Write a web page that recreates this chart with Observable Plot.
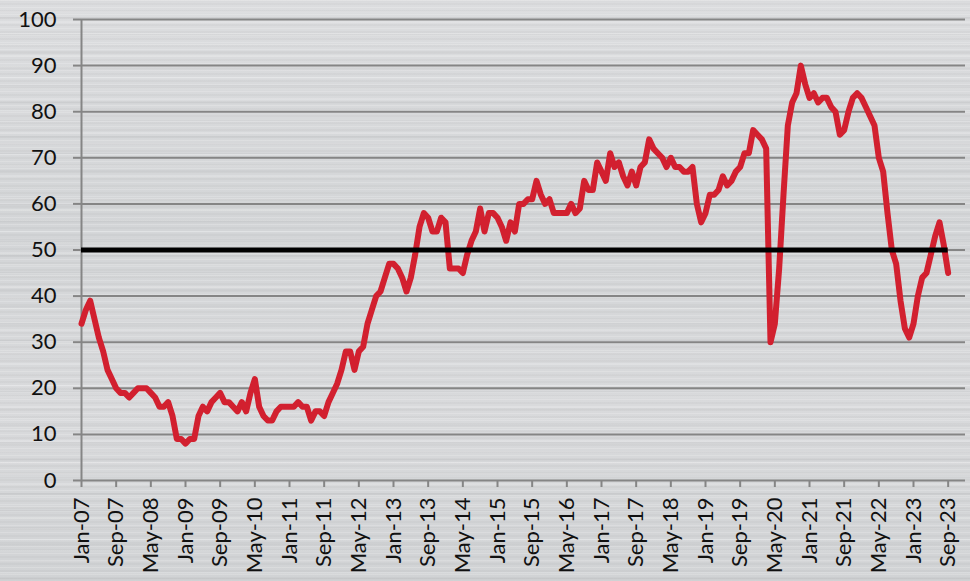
<!DOCTYPE html>
<html>
<head>
<meta charset="utf-8">
<script src="https://cdn.jsdelivr.net/npm/d3@7"></script>
<script src="https://cdn.jsdelivr.net/npm/@observablehq/plot@0.6"></script>
<style>
  html, body { margin: 0; padding: 0; width: 970px; height: 581px; overflow: hidden; }
  body {
    background:
      repeating-linear-gradient(180deg, rgba(255,255,255,0.35) 0px, rgba(255,255,255,0) 1px, rgba(255,255,255,0) 3px, rgba(0,0,0,0.05) 4px, rgba(0,0,0,0) 5px, rgba(0,0,0,0) 7px),
      repeating-linear-gradient(180deg, rgba(255,255,255,0.25) 0px, rgba(255,255,255,0) 2px, rgba(255,255,255,0) 11px),
      repeating-linear-gradient(180deg, rgba(0,0,0,0.04) 0px, rgba(0,0,0,0) 3px, rgba(0,0,0,0) 17px),
      linear-gradient(180deg, #dcdddf 0%, #d3d5d7 40%, #d9dadc 70%, #d1d3d5 100%);
  }
  #chart svg { display: block; }
</style>
</head>
<body>
<div id="chart"></div>
<script>
// Monthly index values, Jan-07 through Sep-23
const startLabel = "Jan-07";
const values = [
  34, 37, 39, 35, 31, 28, 24, 22, 20, 19, 19, 18,   // 2007
  19, 20, 20, 20, 19, 18, 16, 16, 17, 14, 9, 9,     // 2008
  8, 9, 9, 14, 16, 15, 17, 18, 19, 17, 17, 16,      // 2009
  15, 17, 15, 19, 22, 16, 14, 13, 13, 15, 16, 16,   // 2010
  16, 16, 17, 16, 16, 13, 15, 15, 14, 17, 19, 21,   // 2011
  24, 28, 28, 24, 28, 29, 34, 37, 40, 41, 44, 47,   // 2012
  47, 46, 44, 41, 44, 49, 55, 58, 57, 54, 54, 57,   // 2013
  56, 46, 46, 46, 45, 49, 52, 54, 59, 54, 58, 58,   // 2014
  57, 55, 52, 56, 54, 60, 60, 61, 61, 65, 62, 60,   // 2015
  61, 58, 58, 58, 58, 60, 58, 59, 65, 63, 63, 69,   // 2016
  67, 65, 71, 68, 69, 66, 64, 67, 64, 68, 69, 74,   // 2017
  72, 71, 70, 68, 70, 68, 68, 67, 67, 68, 60, 56,   // 2018
  58, 62, 62, 63, 66, 64, 65, 67, 68, 71, 71, 76,   // 2019
  75, 74, 72, 30, 34, 46, 62, 77, 82, 84, 90, 86,   // 2020
  83, 84, 82, 83, 83, 81, 80, 75, 76, 80, 83, 84,   // 2021
  83, 81, 79, 77, 70, 67, 58, 50, 47, 39, 33, 31,   // 2022
  34, 40, 44, 45, 49, 53, 56, 51, 45                // 2023 (to Sep)
];
const threshold = 50;
const tickLabels = ["Jan-07","Sep-07","May-08","Jan-09","Sep-09","May-10","Jan-11","Sep-11","May-12","Jan-13","Sep-13","May-14","Jan-15","Sep-15","May-16","Jan-17","Sep-17","May-18","Jan-19","Sep-19","May-20","Jan-21","Sep-21","May-22","Jan-23","Sep-23"];
const yTicks = [0, 10, 20, 30, 40, 50, 60, 70, 80, 90, 100];

const monthsPerTick = 8;
const tickIdx = tickLabels.map((_, k) => k * monthsPerTick);
const labelOf = new Map(tickIdx.map((t, k) => [t, tickLabels[k]]));
const rows = values.map((v, i) => ({i, v}));
const lastIdx = values.length - 1;

const font = "Lato, 'Open Sans', sans-serif";
const grid = "#858585";

const chart = Plot.plot({
  width: 970,
  height: 581,
  marginLeft: 81,
  marginRight: 5,
  marginTop: 19,
  marginBottom: 101,
  style: {background: "transparent", fontFamily: font, fontSize: "22px", color: "#111"},
  x: {domain: [0, lastIdx + 4], label: null},
  y: {domain: [0, 100], label: null},
  marks: [
    Plot.ruleY(yTicks, {stroke: grid, strokeWidth: 2}),
    Plot.ruleX([0], {stroke: grid, strokeWidth: 2}),
    Plot.axisY(yTicks, {tickSize: 8, tickPadding: 17, stroke: grid, strokeWidth: 2, fill: "#111", fontSize: 22, label: null}),
    Plot.axisX(tickIdx, {tickSize: 7, tickPadding: 10, tickRotate: -90, stroke: grid, strokeWidth: 2, fill: "#111", fontSize: 22, tickFormat: d => labelOf.get(d), label: null}),
    Plot.lineY(rows, {x: "i", y: "v", stroke: "#d2202f", strokeWidth: 6, strokeLinejoin: "round", strokeLinecap: "round"}),
    Plot.ruleY([threshold], {x1: 0, x2: lastIdx, stroke: "#000", strokeWidth: 5, strokeLinecap: "butt"})
  ]
});
document.getElementById("chart").append(chart);
</script>
</body>
</html>
